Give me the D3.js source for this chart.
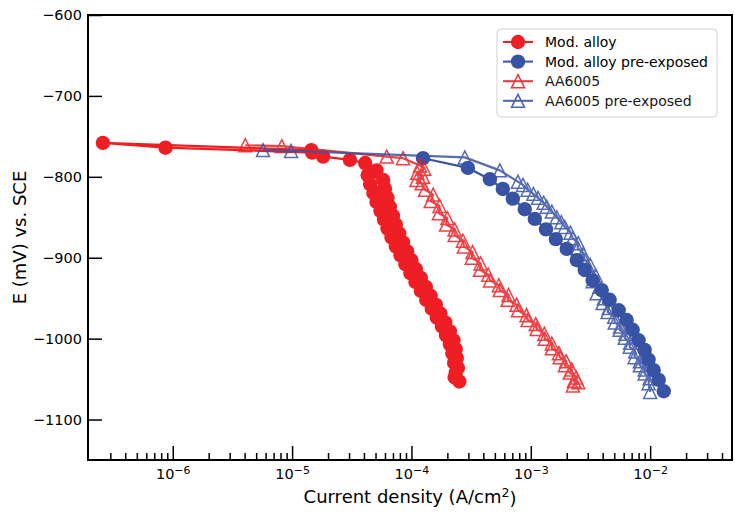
<!DOCTYPE html>
<html>
<head>
<meta charset="utf-8">
<script src="https://cdn.jsdelivr.net/npm/d3@7"></script>
<style>
  html, body { margin: 0; padding: 0; background: #fff; }
  svg { display: block; font-family: "DejaVu Sans", Verdana, sans-serif; }
</style>
</head>
<body>
<svg id="chart" width="735" height="517"></svg>
<script>
// Cathodic polarization curves: [current density (A/cm²), potential (mV vs. SCE)]
const modAlloy = [
  [1.45e-5, -767], [2.6e-7, -758], [8.7e-7, -764], [1.47e-5, -770], [1.82e-5, -775], [3.05e-5, -779], [4.1e-5, -783],
  [5.1e-5, -792], [4.3e-5, -798], [5.8e-5, -804], [4.5e-5, -809], [6.0e-5, -815], [4.8e-5, -820],
  [6.3e-5, -826], [5.1e-5, -831], [6.6e-5, -837], [5.5e-5, -842], [7.0e-5, -848], [5.9e-5, -853],
  [7.4e-5, -859], [6.3e-5, -864], [7.9e-5, -870], [6.8e-5, -875], [8.5e-5, -881], [7.4e-5, -886],
  [9.2e-5, -892], [8.1e-5, -897], [1.0e-4, -903], [8.9e-5, -908], [1.09e-4, -914], [9.8e-5, -919],
  [1.2e-4, -925], [1.08e-4, -930], [1.32e-4, -936], [1.2e-4, -941], [1.45e-4, -947], [1.33e-4, -952],
  [1.6e-4, -958], [1.48e-4, -963], [1.75e-4, -969], [1.63e-4, -974], [1.92e-4, -980], [1.8e-4, -985],
  [2.1e-4, -991], [1.95e-4, -996], [2.25e-4, -1002], [2.1e-4, -1007], [2.35e-4, -1013], [2.2e-4, -1018],
  [2.4e-4, -1024], [2.28e-4, -1030], [2.45e-4, -1036], [2.35e-4, -1042], [2.3e-4, -1048], [2.52e-4, -1053]
];

const modAlloyPre = [
  [1.25e-4, -777], [2.97e-4, -789], [4.54e-4, -803], [5.83e-4, -815], [7.07e-4, -827], [8.9e-4, -840],
  [1.08e-3, -852], [1.34e-3, -865], [1.62e-3, -877], [2.0e-3, -889], [2.43e-3, -903], [2.83e-3, -915],
  [3.3e-3, -928], [3.93e-3, -940], [4.58e-3, -952], [5.45e-3, -965], [6.36e-3, -977], [7.14e-3, -989],
  [8.0e-3, -1002], [9.0e-3, -1014], [9.7e-3, -1026], [1.07e-2, -1039], [1.18e-2, -1051], [1.3e-2, -1065]
];

const aa6005 = [
  [4.05e-6, -761], [8.2e-6, -762], [6.2e-5, -775], [8.5e-5, -777], [1.18e-4, -786], [1.28e-4, -790],
  [1.12e-4, -795], [1.25e-4, -800], [1.1e-4, -804], [1.22e-4, -808],
  [1.3e-4, -816], [1.52e-4, -822], [1.45e-4, -830], [1.72e-4, -836], [1.7e-4, -845], [2.0e-4, -851],
  [1.95e-4, -859], [2.3e-4, -865], [2.3e-4, -872], [2.7e-4, -879], [2.75e-4, -886], [3.25e-4, -893],
  [3.2e-4, -900], [3.8e-4, -907], [3.75e-4, -915], [4.4e-4, -921], [4.55e-4, -928], [5.4e-4, -934],
  [5.5e-4, -940], [6.5e-4, -946], [6.4e-4, -952], [7.6e-4, -958], [7.8e-4, -965], [9.2e-4, -971],
  [9.4e-4, -977], [1.1e-3, -982], [1.12e-3, -988], [1.3e-3, -994], [1.31e-3, -1000], [1.5e-3, -1006],
  [1.5e-3, -1012], [1.72e-3, -1018], [1.75e-3, -1023], [1.98e-3, -1028], [1.93e-3, -1033], [2.2e-3, -1038],
  [2.12e-3, -1042], [2.4e-3, -1048], [2.3e-3, -1052], [2.5e-3, -1054], [2.25e-3, -1058]
];

const aa6005Pre = [
  [5.7e-6, -767], [9.8e-6, -768], [2.8e-4, -776], [5.5e-4, -792], [7.8e-4, -806], [8.6e-4, -810],
  [9.4e-4, -816], [1.05e-3, -821], [1.15e-3, -826], [1.28e-3, -832], [1.36e-3, -837], [1.5e-3, -843],
  [1.65e-3, -850], [1.8e-3, -856], [1.93e-3, -862], [2.15e-3, -869], [2.25e-3, -876], [2.5e-3, -882],
  [2.47e-3, -888], [2.75e-3, -895], [2.83e-3, -903], [3.15e-3, -909], [3.12e-3, -915], [3.5e-3, -922],
  [3.3e-3, -929], [3.75e-3, -936], [3.56e-3, -944], [4.1e-3, -950], [4.0e-3, -956], [4.5e-3, -962],
  [4.4e-3, -967], [5.0e-3, -973], [5.05e-3, -980], [5.6e-3, -985], [5.55e-3, -989], [6.2e-3, -994],
  [6.12e-3, -999], [6.8e-3, -1005], [6.74e-3, -1010], [7.5e-3, -1016], [7.4e-3, -1023], [8.2e-3, -1028],
  [8.2e-3, -1033], [9.0e-3, -1038], [9.0e-3, -1043], [9.9e-3, -1049], [9.7e-3, -1055], [1.0e-2, -1066]
];

const seriesNames = ["Mod. alloy", "Mod. alloy pre-exposed", "AA6005", "AA6005 pre-exposed"];
const xMajorTicks = [1e-6, 1e-5, 1e-4, 1e-3, 1e-2];
const yTicks = [-600, -700, -800, -900, -1000, -1100];
const xLabel = "Current density (A/cm";
const yLabel = "E (mV) vs. SCE";

const RED = "#ed1f24", BLUE = "#3953a4";
const series = [
  { name: seriesNames[0], data: modAlloy,    color: RED,  marker: "circle" },
  { name: seriesNames[1], data: modAlloyPre, color: BLUE, marker: "circle" },
  { name: seriesNames[2], data: aa6005,      color: RED,  marker: "triangle" },
  { name: seriesNames[3], data: aa6005Pre,   color: BLUE, marker: "triangle" }
];

const svg = d3.select("#chart");
const plot = { left: 88, right: 732, top: 15, bottom: 460 };

const x = d3.scaleLog().domain([1.95e-7, 0.0485]).range([plot.left, plot.right]);
const y = d3.scaleLinear().domain([-1150, -600]).range([plot.bottom, plot.top]);

// matplotlib-style "^" marker: equal width and height, centred on the point
const triangleUp = {
  draw(ctx, size) {
    const h = Math.sqrt(size) / 2;
    ctx.moveTo(0, -h);
    ctx.lineTo(h, h);
    ctx.lineTo(-h, h);
    ctx.closePath();
  }
};
const triPath = d3.symbol().type(triangleUp).size(13 * 13)();

svg.append("defs").append("clipPath").attr("id", "clip")
  .append("rect")
  .attr("x", plot.left).attr("y", plot.top)
  .attr("width", plot.right - plot.left).attr("height", plot.bottom - plot.top);

const line = d3.line().x(d => x(d[0])).y(d => y(d[1]));

const layer = svg.append("g").attr("clip-path", "url(#clip)");

function drawMarkers(g, s, pts) {
  if (s.marker === "circle") {
    g.selectAll("circle").data(pts).join("circle")
      .attr("cx", d => x(d[0])).attr("cy", d => y(d[1])).attr("r", 7.2)
      .attr("fill", s.color);
  } else {
    g.selectAll("path.m").data(pts).join("path").attr("class", "m")
      .attr("d", triPath)
      .attr("transform", d => `translate(${x(d[0])},${y(d[1])})`)
      .attr("fill", "none").attr("stroke", s.color).attr("stroke-width", 1.5);
  }
}

series.forEach(s => {
  const g = layer.append("g").attr("opacity", s.marker === "triangle" ? 0.85 : 1);
  g.append("path").datum(s.data)
    .attr("d", line).attr("fill", "none")
    .attr("stroke", s.color).attr("stroke-width", 2.2).attr("stroke-linejoin", "round");
  drawMarkers(g, s, s.data);
});

// Axes with inward ticks
const minorTicks = [];
for (let e = -7; e <= -2; e++) {
  for (let m = 2; m <= 9; m++) {
    const v = m * Math.pow(10, e);
    if (x(v) > plot.left + 2 && x(v) < plot.right - 2) minorTicks.push(v);
  }
}

const xAxisMinor = svg.append("g").attr("transform", `translate(0,${plot.bottom})`)
  .call(d3.axisBottom(x).tickValues(minorTicks).tickSize(-7).tickSizeOuter(0).tickFormat(""));
const xAxis = svg.append("g").attr("transform", `translate(0,${plot.bottom})`)
  .call(d3.axisBottom(x).tickValues(xMajorTicks).tickSize(-14).tickSizeOuter(0).tickPadding(9)
    .tickFormat(d => String(Math.round(Math.log10(d)))));
const yAxis = svg.append("g").attr("transform", `translate(${plot.left},0)`)
  .call(d3.axisLeft(y).tickValues(yTicks).tickSize(-14).tickSizeOuter(0).tickPadding(6)
    .tickFormat(d3.format("d")));

[xAxisMinor, xAxis, yAxis].forEach(g => {
  g.select(".domain").remove();
  g.selectAll(".tick line").attr("stroke", "#000").attr("stroke-width", 1.5);
  g.selectAll(".tick text").attr("fill", "#000").attr("font-size", "14.5px")
    .attr("font-family", "DejaVu Sans, Verdana, sans-serif");
});

// Power-of-ten labels with superscript exponent
xAxis.selectAll(".tick text").each(function(d) {
  const t = d3.select(this);
  const exp = Math.round(Math.log10(d));
  t.text(null);
  t.append("tspan").text("10");
  t.append("tspan").attr("dy", "-0.45em").attr("font-size", "11px")
    .text((exp < 0 ? "\u2212" : "") + Math.abs(exp));
});

// Frame
svg.append("rect")
  .attr("x", plot.left).attr("y", plot.top)
  .attr("width", plot.right - plot.left).attr("height", plot.bottom - plot.top)
  .attr("fill", "none").attr("stroke", "#000").attr("stroke-width", 2);

// Axis titles
const xt = svg.append("text")
  .attr("x", (plot.left + plot.right) / 2).attr("y", 503)
  .attr("text-anchor", "middle").attr("font-size", "18px").attr("fill", "#000");
xt.append("tspan").text(xLabel);
xt.append("tspan").attr("dy", "-0.45em").attr("font-size", "12.5px").text("2");
xt.append("tspan").attr("dy", "0.45em").text(")");

svg.append("text")
  .attr("transform", `translate(26,${(plot.top + plot.bottom) / 2}) rotate(-90)`)
  .attr("text-anchor", "middle").attr("font-size", "18px").attr("fill", "#000")
  .text(yLabel);

// Legend
const legend = svg.append("g").attr("transform", "translate(497,29)");
legend.append("rect")
  .attr("width", 220).attr("height", 88).attr("rx", 4)
  .attr("fill", "#fff").attr("fill-opacity", 0.8)
  .attr("stroke", "#d0d0d0").attr("stroke-width", 1);

series.forEach((s, i) => {
  const row = legend.append("g").attr("transform", `translate(0,${13 + i * 19.6})`)
    .attr("opacity", s.marker === "triangle" ? 0.9 : 1);
  row.append("line").attr("x1", 6).attr("x2", 36).attr("y1", 0).attr("y2", 0)
    .attr("stroke", s.color).attr("stroke-width", 2);
  const m = row.append("g").attr("transform", "translate(21,0)");
  if (s.marker === "circle") {
    m.append("circle").attr("r", 7.2).attr("fill", s.color);
  } else {
    m.append("path").attr("d", triPath).attr("fill", "none")
      .attr("stroke", s.color).attr("stroke-width", 1.5);
  }
  row.append("text").attr("x", 48).attr("y", 5).attr("font-size", "14px").attr("fill", "#000")
    .text(s.name);
});
</script>
</body>
</html>
